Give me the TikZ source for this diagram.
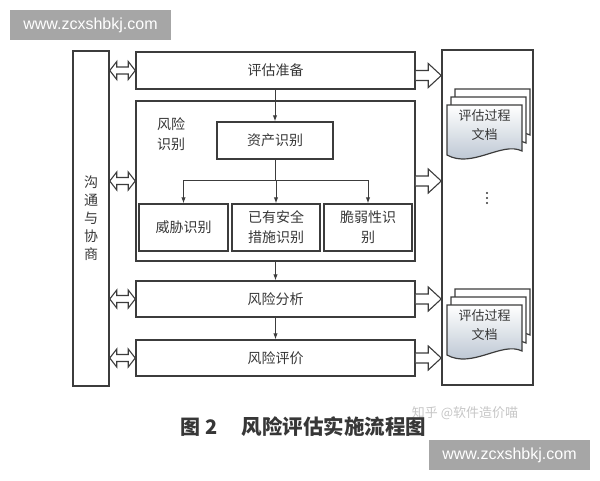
\documentclass[tikz,border=0pt]{standalone}
\usepackage{fontspec}
\setmainfont{Liberation Sans}
\newfontfamily\cjk{Noto Sans CJK SC}
\usetikzlibrary{arrows.meta,calc}
\definecolor{lc}{RGB}{60,60,60}
\definecolor{tc}{RGB}{55,55,55}
\definecolor{wmg}{RGB}{166,166,166}
\definecolor{docb}{RGB}{178,190,204}
\newcommand\hdbl[2]{%
  \draw[hol] let \p1=#1, \p2=#2 in
    (\x1,\y1) -- (\x1+7pt,\y1+9pt) -- (\x1+7pt,\y1+3.5pt) -- (\x2-7pt,\y1+3.5pt)
    -- (\x2-7pt,\y1+9pt) -- (\x2,\y1) -- (\x2-7pt,\y1-9pt) -- (\x2-7pt,\y1-3.5pt)
    -- (\x1+7pt,\y1-3.5pt) -- (\x1+7pt,\y1-9pt) -- cycle;}
\newcommand\hright[2]{%
  \draw[hol] let \p1=#1, \p2=#2 in
    (\x1,\y1+5pt) -- (\x2-13pt,\y1+5pt) -- (\x2-13pt,\y1+12pt) -- (\x2,\y1)
    -- (\x2-13pt,\y1-12pt) -- (\x2-13pt,\y1-5pt) -- (\x1,\y1-5pt);}
\newcommand\docpage[3]{%
  \draw[lc, line width=1.2pt, #3] (#1,#2) -- (#1+75,#2) -- (#1+75,#2+46)
    .. controls (#1+55,#2+36) and (#1+25,#2+64) .. (#1,#2+50) -- cycle;}
\begin{document}
\begin{tikzpicture}[x=1pt,y=-1pt,
  box/.style={draw=lc, line width=1.5pt, inner sep=0pt, text=tc, align=center,
    font=\cjk\fontsize{14}{20}\selectfont},
  hol/.style={draw=lc, line width=1.1pt, fill=white, line join=miter},
  arr/.style={draw=lc, line width=1pt, -{Latex[length=6pt,width=4.5pt]}},
  dotmark/.style={fill=tc, draw=none},
  wm/.style={fill=wmg, text=white, inner sep=0pt, minimum width=161pt, minimum height=30pt,
    font=\fontsize{16}{16}\selectfont}]
\useasboundingbox (0,0) rectangle (600,480);
% watermarks
\node[wm] (wm1) at (90.5,25) {www.zcxshbkj.com};
% boxes
\node[box, minimum width=36pt, minimum height=335pt, font=\cjk\fontsize{14}{18}\selectfont] (comm) at (91,218.5) {沟\\通\\与\\协\\商};
\node[box, minimum width=91pt, minimum height=335pt] (docs) at (487.5,217.5) {};
\node[box, minimum width=279pt, minimum height=37pt] (prep) at (275.5,70.5) {评估准备};
\node[box, minimum width=279pt, minimum height=160pt] (ident) at (275.5,181) {};
\node[box, draw=none] (identlabel) at (171,134) {风险\\识别};
\node[box, minimum width=116pt, minimum height=37pt] (asset) at (275,140.5) {资产识别};
\node[box, minimum width=89pt, minimum height=47pt] (threat) at (183.5,227.5) {威胁识别};
\node[box, minimum width=88pt, minimum height=47pt] (exist) at (276,227.5) {已有安全\\措施识别};
\node[box, minimum width=88pt, minimum height=47pt] (vuln) at (368,227.5) {脆弱性识\\别};
\node[box, minimum width=279pt, minimum height=36pt] (analysis) at (275.5,299) {风险分析};
\node[box, minimum width=279pt, minimum height=36pt] (evalb) at (275.5,358) {风险评价};
% vertical flow
\coordinate (br) at (275,180);
\draw[arr] (asset.north |- prep.south) -- (asset.north);
\draw[lc, line width=1pt] (asset.south) -- (br);
\draw[lc, line width=1pt] (br -| threat.north) -- (br -| vuln.north);
\draw[arr] (br -| threat.north) -- (threat.north);
\draw[arr] (br -| exist.north) -- (exist.north);
\draw[arr] (br -| vuln.north) -- (vuln.north);
\draw[arr] (analysis.north |- ident.south) -- (analysis.north);
\draw[arr] (analysis.south) -- (evalb.north);
% hollow double arrows
\hdbl{(comm.east |- prep.west)}{(prep.west)}
\hdbl{(comm.east |- ident.west)}{(ident.west)}
\hdbl{(comm.east |- analysis.west)}{(analysis.west)}
\hdbl{(comm.east |- evalb.west)}{(evalb.west)}
% hollow right arrows
\coordinate (pr) at ([yshift=-5pt]prep.east);
\hright{(pr)}{(docs.west |- pr)}
\hright{(ident.east)}{(docs.west |- ident.east)}
\hright{(analysis.east)}{(docs.west |- analysis.east)}
\hright{(evalb.east)}{(docs.west |- evalb.east)}
% document stacks
\docpage{455}{89}{fill=white}
\docpage{451}{97}{fill=white}
\docpage{447}{105}{top color=white, bottom color=docb}
\node[box, draw=none, font=\cjk\fontsize{13}{19}\selectfont] (doc1) at (484.5,125) {评估过程\\文档};
\docpage{455}{289}{fill=white}
\docpage{451}{297}{fill=white}
\docpage{447}{305}{top color=white, bottom color=docb}
\node[box, draw=none, font=\cjk\fontsize{13}{19}\selectfont] (doc2) at (484.5,325) {评估过程\\文档};
% vertical ellipsis
\fill[dotmark] (487,193) circle (1.2pt);
\fill[dotmark] (487,198) circle (1.2pt);
\fill[dotmark] (487,203) circle (1.2pt);
% captions
\node[text=gray!45, font=\cjk\fontsize{13}{13}\selectfont, inner sep=0pt] (zh) at (465,413) {知乎 @软件造价喵};
\node[text=tc, font=\cjk\bfseries\fontsize{20}{20}\selectfont, inner sep=0pt] (cap1) at (199,427) {图 2};
\node[text=tc, font=\cjk\bfseries\fontsize{20.5}{20}\selectfont, inner sep=0pt] (cap2) at (334,427) {风险评估实施流程图};
\node[wm] (wm2) at (509.5,455) {www.zcxshbkj.com};
\end{tikzpicture}
\end{document}
